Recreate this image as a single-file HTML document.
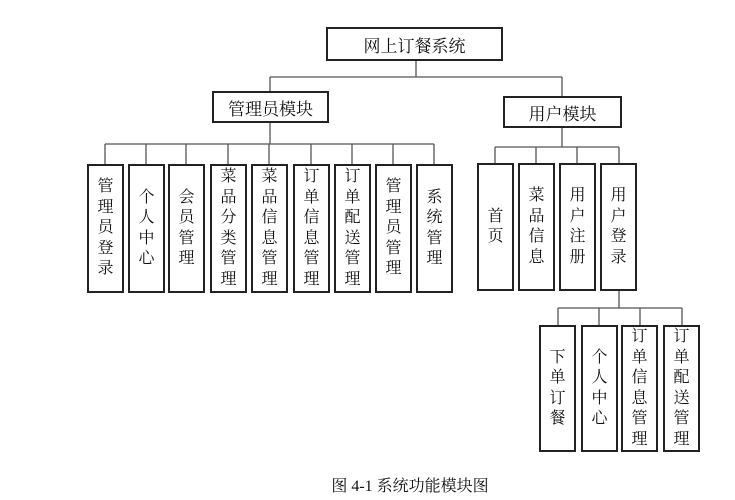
<!DOCTYPE html>
<html><head><meta charset="utf-8"><style>
body{margin:0;background:#fff;width:735px;height:500px;position:relative;overflow:hidden;font-family:"Liberation Serif","Noto Serif CJK SC",serif;color:#111}
.b{position:absolute;box-sizing:border-box;border:2px solid #222;display:flex;align-items:center;justify-content:center;text-align:center;background:#fff;overflow:visible}
.v{font-size:16px;line-height:20.5px;width:37px}
.h{font-size:17px}
svg{position:absolute;left:0;top:0}
</style></head><body>
<svg width="735" height="500"><g stroke="#555" stroke-width="1.3" fill="none">
<path d="M416 60V77M270 77H562M270 77V91M562 77V96"/>
<path d="M270 122V144M105 144H434M105 144V164M146 144V164M186 144V164M228 144V164M269 144V164M311 144V164M352 144V164M393 144V164M434 144V164"/>
<path d="M562 127V147M495 147H619M495 147V163M536 147V163M577 147V163M619 147V163"/>
<path d="M619 290V308M558 308H682M558 308V325M599 308V325M640 308V325M682 308V325"/>
</g></svg>
<div class="b h" style="left:326px;top:27px;width:177px;height:34px">网上订餐系统</div>
<div class="b h" style="left:212px;top:91px;width:117px;height:32px">管理员模块</div>
<div class="b h" style="left:503px;top:96px;width:119px;height:32px">用户模块</div>
<div class="b v" style="left:87px;top:164px;height:129px">管<br>理<br>员<br>登<br>录</div>
<div class="b v" style="left:128px;top:164px;height:129px">个<br>人<br>中<br>心</div>
<div class="b v" style="left:168px;top:164px;height:129px">会<br>员<br>管<br>理</div>
<div class="b v" style="left:210px;top:164px;height:129px">菜<br>品<br>分<br>类<br>管<br>理</div>
<div class="b v" style="left:251px;top:164px;height:129px">菜<br>品<br>信<br>息<br>管<br>理</div>
<div class="b v" style="left:293px;top:164px;height:129px">订<br>单<br>信<br>息<br>管<br>理</div>
<div class="b v" style="left:334px;top:164px;height:129px">订<br>单<br>配<br>送<br>管<br>理</div>
<div class="b v" style="left:375px;top:164px;height:129px">管<br>理<br>员<br>管<br>理</div>
<div class="b v" style="left:416px;top:164px;height:129px">系<br>统<br>管<br>理</div>
<div class="b v" style="left:477px;top:163px;height:128px">首<br>页</div>
<div class="b v" style="left:518px;top:163px;height:128px">菜<br>品<br>信<br>息</div>
<div class="b v" style="left:559px;top:163px;height:128px">用<br>户<br>注<br>册</div>
<div class="b v" style="left:600px;top:163px;height:128px">用<br>户<br>登<br>录</div>
<div class="b v" style="left:539px;top:325px;height:127px">下<br>单<br>订<br>餐</div>
<div class="b v" style="left:581px;top:325px;height:127px">个<br>人<br>中<br>心</div>
<div class="b v" style="left:621px;top:325px;height:127px">订<br>单<br>信<br>息<br>管<br>理</div>
<div class="b v" style="left:663px;top:325px;height:127px">订<br>单<br>配<br>送<br>管<br>理</div>
<div style="position:absolute;left:0;width:820px;top:476px;text-align:center;font-size:16px;line-height:22px">图 4-1 系统功能模块图</div>
</body></html>
